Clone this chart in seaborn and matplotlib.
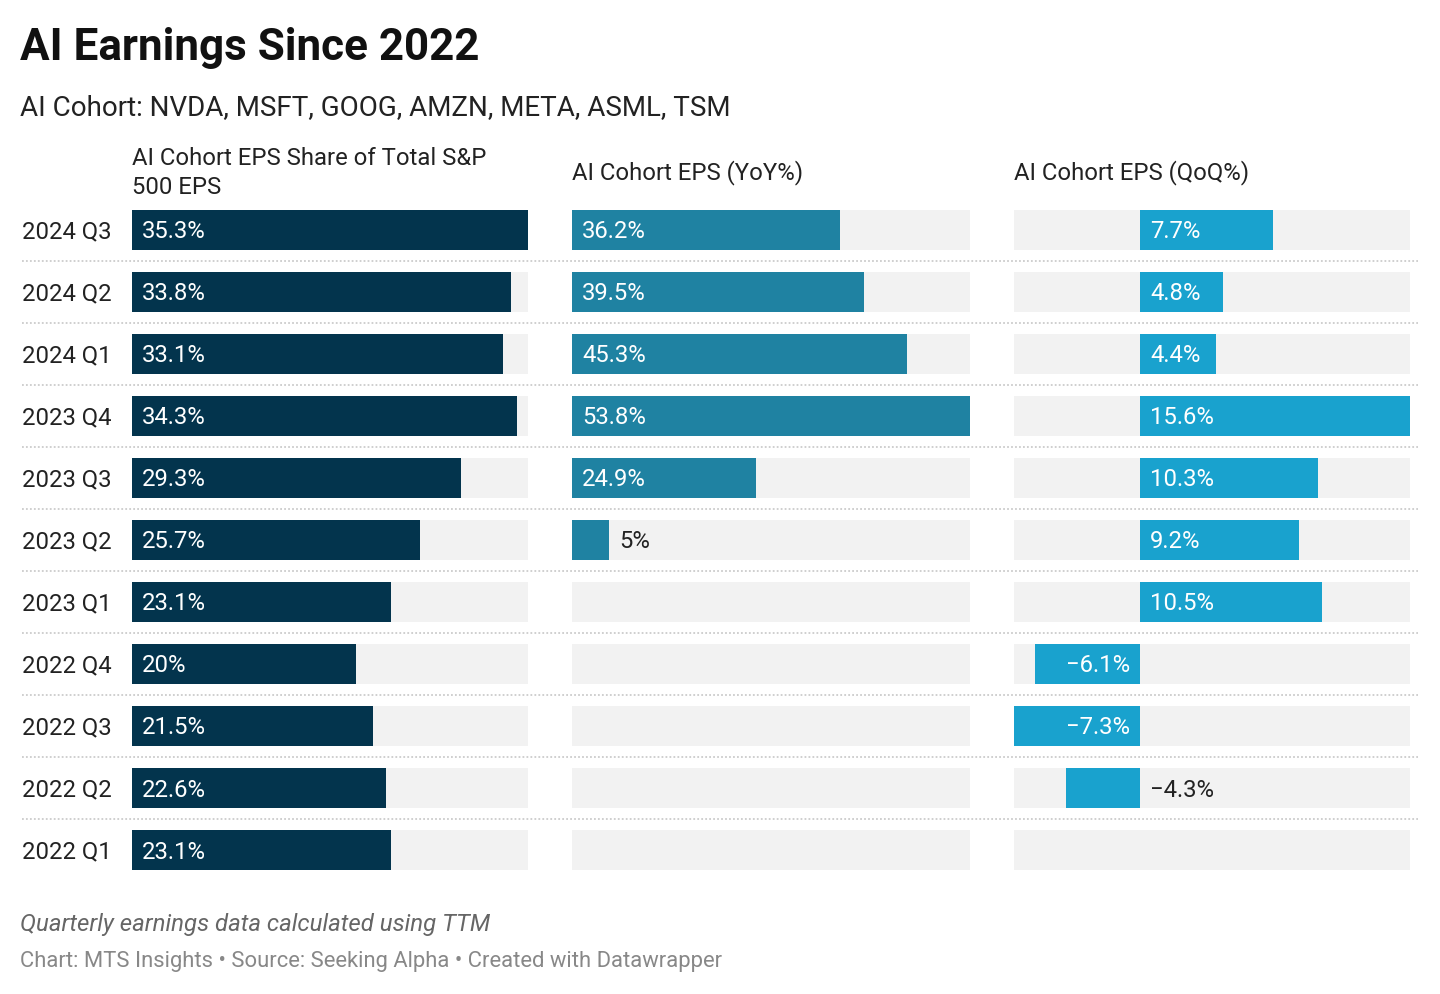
import numpy as np
import pandas as pd
import matplotlib
matplotlib.use("Agg")
import matplotlib.pyplot as plt
import matplotlib.transforms as mtransforms
import seaborn as sns

# ---------------- data ----------------
quarters = ["2024 Q3", "2024 Q2", "2024 Q1", "2023 Q4", "2023 Q3", "2023 Q2",
            "2023 Q1", "2022 Q4", "2022 Q3", "2022 Q2", "2022 Q1"]
eps_share = [35.3, 33.8, 33.1, 34.3, 29.3, 25.7, 23.1, 20.0, 21.5, 22.6, 23.1]
eps_yoy = [36.2, 39.5, 45.3, 53.8, 24.9, 5.0, np.nan, np.nan, np.nan, np.nan, np.nan]
eps_qoq = [7.7, 4.8, 4.4, 15.6, 10.3, 9.2, 10.5, -6.1, -7.3, -4.3, np.nan]

col_titles = ["AI Cohort EPS Share of Total S&P\n500 EPS", "AI Cohort EPS (YoY%)", "AI Cohort EPS (QoQ%)"]
col_colors = ["#03344d", "#1f82a2", "#19a2ce"]
bg_color = "#f2f2f2"

title = "AI Earnings Since 2022"
subtitle = "AI Cohort: NVDA, MSFT, GOOG, AMZN, META, ASML, TSM"
note = "Quarterly earnings data calculated using TTM"
credit = "Chart: MTS Insights \u2022 Source: Seeking Alpha \u2022 Created with Datawrapper"

# ---------------- style ----------------
sns.set_theme(style="white")
plt.rcParams["font.family"] = ["Roboto", "DejaVu Sans"]

W, H = 1440, 994
fig = plt.figure(figsize=(W / 100, H / 100), dpi=100)
fig.patch.set_facecolor("white")

def fx(x):
    return x / W

def fy(y):
    return 1 - y / H

BODY = 17.2
n = len(quarters)
row0, step = 230, 62
top_px = row0 - step / 2
bot_px = row0 + step * (n - 1) + step / 2
bar_h = 40 / 62
yoff = 2 / 62  # small downward nudge so digits sit centred in bars

# separator axes (full width)
sep_ax = fig.add_axes([fx(22), fy(bot_px), fx(1418 - 22), (bot_px - top_px) / H])
sep_ax.set_xlim(0, 1)
sep_ax.set_ylim(n - 0.5, -0.5)
sep_ax.axis("off")
for i in range(n - 1):
    sep_ax.axhline(i + 0.5, color="#cccccc", lw=1.3, linestyle=(0, (1, 1.2)))

cols = [
    (eps_share, 132, 528),
    (eps_yoy, 572, 970),
    (eps_qoq, 1014, 1410),
]

fmt = lambda v: ("\u2212" if v < 0 else "") + f"{abs(v):g}%"

axes = []
for ci, (vals, x0, x1) in enumerate(cols):
    ax = fig.add_axes([fx(x0), fy(bot_px), fx(x1 - x0), (bot_px - top_px) / H])
    arr = np.array(vals, dtype=float)
    xmin = min(0.0, np.nanmin(arr))
    xmax = np.nanmax(arr)
    df = pd.DataFrame({"quarter": quarters, "value": arr}).dropna()
    sns.barplot(data=df, x="value", y="quarter", order=quarters, orient="h",
                color=col_colors[ci], saturation=1, width=bar_h, ax=ax, zorder=2,
                linewidth=0)
    ax.barh(np.arange(n), xmax - xmin, left=xmin, height=bar_h,
            color=bg_color, zorder=0, linewidth=0)
    ax.set_xlim(xmin, xmax)
    ax.set_ylim(n - 0.5, -0.5)
    ax.axis("off")
    px_per_unit = (x1 - x0) / (xmax - xmin)
    for i, v in enumerate(arr):
        if np.isnan(v):
            continue
        lab = fmt(v)
        est_w = len(lab) * 13 + 20
        bar_px = abs(v) * px_per_unit
        pad = 10 / px_per_unit
        inside = bar_px > est_w
        yy = i + yoff
        if v >= 0:
            if inside:
                ax.text(pad, yy, lab, color="white", ha="left", va="center", fontsize=BODY, zorder=3)
            else:
                ax.text(v + pad, yy, lab, color="#222222", ha="left", va="center", fontsize=BODY, zorder=3)
        else:
            if inside:
                ax.text(-pad, yy, lab, color="white", ha="right", va="center", fontsize=BODY, zorder=3)
            else:
                ax.text(pad, yy, lab, color="#222222", ha="left", va="center", fontsize=BODY, zorder=3)
    fig.text(fx(x0), fy(173), col_titles[ci], ha="left", va="center", fontsize=BODY,
             color="#222222", linespacing=1.3)
    axes.append(ax)

# row labels
trans = mtransforms.blended_transform_factory(fig.transFigure, axes[0].transData)
for i, q in enumerate(quarters):
    axes[0].text(fx(22), i + yoff, q, transform=trans, ha="left", va="center", fontsize=BODY,
                 color="#222222")

fig.text(fx(20), fy(48), title, ha="left", va="center", fontsize=31.7, fontweight="bold", color="#111111")
fig.text(fx(20), fy(108), subtitle, ha="left", va="center", fontsize=20, color="#222222")
fig.text(fx(20), fy(925), note, ha="left", va="center", fontsize=17.3, style="italic", color="#666666")
fig.text(fx(20), fy(962), credit, ha="left", va="center", fontsize=15.8, color="#888888")

fig.savefig("out.png", dpi=100, facecolor="white")
